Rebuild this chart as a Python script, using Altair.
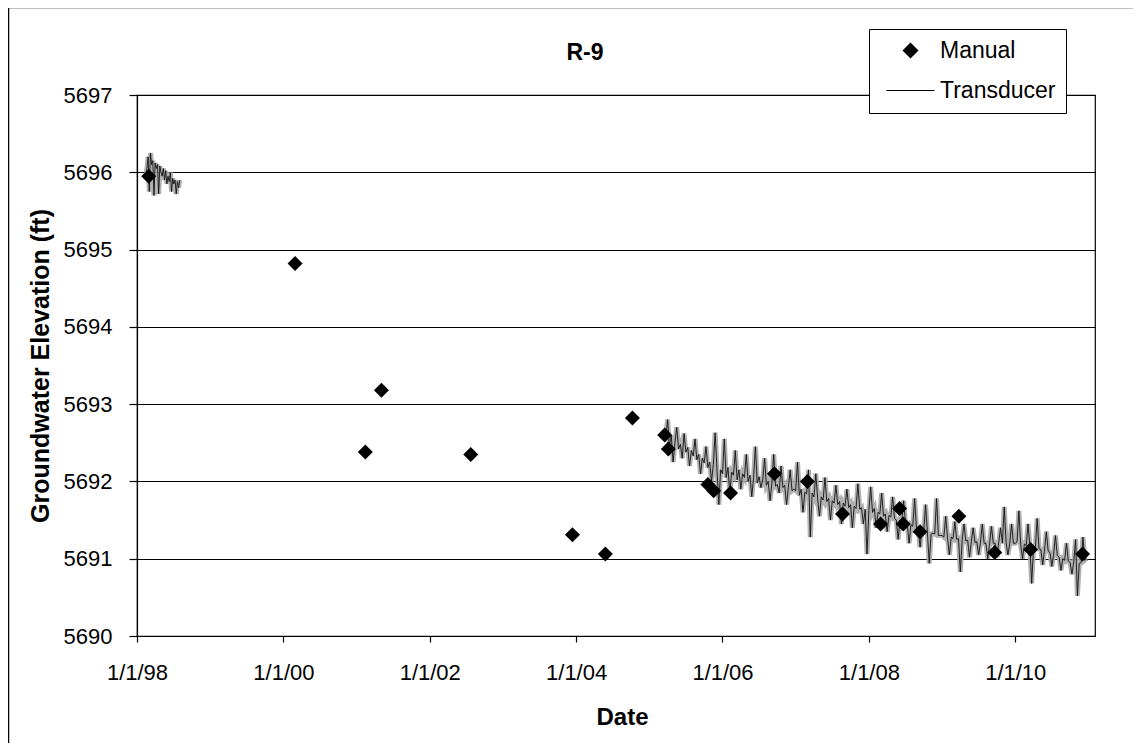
import altair as alt
import pandas as pd

# ---------------- data ----------------
manual_year = [1998.16, 2000.16, 2001.12, 2001.34, 2002.56, 2003.95, 2004.40, 2004.77,
               2005.21, 2005.26, 2005.80, 2005.88, 2006.11, 2006.71, 2007.16, 2007.64,
               2008.16, 2008.42, 2008.47, 2008.70, 2009.23, 2009.72, 2010.21, 2010.92]
manual_elev = [5695.95, 5694.82, 5692.38, 5693.18, 5692.35, 5691.31, 5691.06, 5692.82,
               5692.60, 5692.42, 5691.96, 5691.88, 5691.85, 5692.10, 5692.00, 5691.58,
               5691.45, 5691.65, 5691.45, 5691.35, 5691.55, 5691.08, 5691.12, 5691.06]

# transducer record, segment 1 (1998), regular sampling
tr98_start = 1998.12
tr98_step = 0.016
tr98_elev = [5695.95, 5696.05, 5696.20, 5695.75, 5696.25, 5696.10, 5696.15, 5695.70,
             5696.12, 5696.05, 5696.10, 5695.72, 5696.08, 5696.00, 5695.95, 5696.05,
             5695.90, 5696.02, 5695.85, 5695.95, 5695.88, 5696.00, 5695.75, 5695.92,
             5695.85, 5695.90, 5695.72, 5695.88, 5695.80, 5695.90]

# transducer record, segment 2 (2005-2010), regular sampling
tr05_start = 2005.225
tr05_step = 0.025
tr05_elev = [
    # 2005
    5692.55, 5692.80, 5692.45, 5692.60, 5692.25, 5692.50, 5692.70, 5692.42, 5692.48, 5692.30,
    5692.62, 5692.38, 5692.44, 5692.20, 5692.40, 5692.33, 5692.55, 5692.28, 5692.35, 5692.10,
    5692.30, 5692.24, 5692.45, 5692.18, 5692.25, 5692.00, 5692.22, 5692.63, 5692.15, 5691.70,
    5692.15,
    # 2006
    5692.10, 5692.55, 5692.05, 5692.18, 5691.85, 5692.12, 5692.08, 5692.40, 5692.02, 5692.15,
    5691.90, 5692.10, 5692.05, 5692.35, 5692.00, 5692.08, 5691.80, 5692.05, 5692.45, 5691.98,
    5692.06, 5691.92, 5692.02, 5692.30, 5691.95, 5692.00, 5691.75, 5691.98, 5692.35, 5691.94,
    5691.96, 5691.85, 5692.20, 5691.92, 5691.95, 5691.70, 5691.92, 5692.15, 5691.88, 5691.90,
    # 2007
    5691.88, 5692.25, 5691.82, 5691.90, 5691.60, 5691.86, 5691.84, 5692.15, 5691.28, 5691.85,
    5691.80, 5692.10, 5691.78, 5691.55, 5691.80, 5691.76, 5692.05, 5691.74, 5691.78, 5691.50,
    5691.75, 5691.72, 5691.95, 5691.70, 5691.74, 5691.45, 5691.72, 5691.68, 5691.90, 5691.66,
    5691.70, 5691.40, 5691.68, 5691.65, 5691.97, 5691.64, 5691.66, 5691.45, 5691.64, 5691.06,
    # 2008
    5691.62, 5691.93, 5691.60, 5691.65, 5691.40, 5691.60, 5691.58, 5691.85, 5691.55, 5691.58,
    5691.35, 5691.56, 5691.54, 5691.80, 5691.52, 5691.50, 5691.25, 5691.50, 5691.48, 5691.75,
    5691.46, 5691.45, 5691.20, 5691.44, 5691.42, 5691.78, 5691.40, 5691.38, 5691.15, 5691.38,
    5691.36, 5691.70, 5691.34, 5690.94, 5691.32, 5691.33, 5691.32, 5691.78, 5691.30, 5691.30,
    # 2009
    5691.30, 5691.28, 5691.55, 5691.27, 5691.05, 5691.28, 5691.26, 5691.48, 5691.25, 5691.26,
    5690.83, 5691.24, 5691.45, 5691.23, 5691.24, 5691.02, 5691.22, 5691.40, 5691.21, 5691.22,
    5691.05, 5691.21, 5691.45, 5691.20, 5691.20, 5691.00, 5691.20, 5691.42, 5691.20, 5691.20,
    5691.02, 5691.21, 5691.40, 5691.20, 5691.67, 5691.21, 5691.05, 5691.20, 5691.45, 5691.20,
    # 2010
    5691.20, 5691.22, 5691.62, 5691.18, 5691.00, 5691.19, 5691.17, 5691.45, 5691.16, 5690.68,
    5691.15, 5691.14, 5691.52, 5691.13, 5691.12, 5690.92, 5691.11, 5691.35, 5691.10, 5691.08,
    5690.90, 5691.06, 5691.30, 5691.04, 5691.02, 5690.85, 5691.00, 5690.98, 5691.20, 5690.97,
    5690.95, 5690.80, 5690.96, 5691.25, 5690.52, 5690.94, 5690.95, 5691.28, 5690.98, 5691.00,
]

chart_title = "R-9"
series_names = ["Manual", "Transducer"]
x_domain = [1998.0, 2011.09]
x_ticks = [1998, 2000, 2002, 2004, 2006, 2008, 2010]
y_domain = [5690, 5697]
y_ticks = [5690, 5691, 5692, 5693, 5694, 5695, 5696, 5697]

# ---------------- tables ----------------
manual_df = pd.DataFrame({"year": manual_year, "elev": manual_elev, "series": "Manual"})
rows = []
for i, v in enumerate(tr98_elev):
    rows.append({"year": tr98_start + i * tr98_step, "elev": v, "seg": "a"})
for i, v in enumerate(tr05_elev):
    rows.append({"year": tr05_start + i * tr05_step, "elev": v, "seg": "b"})
trans_df = pd.DataFrame(rows)

FONT = "Liberation Sans"

x_enc = alt.X("year:Q",
              scale=alt.Scale(domain=x_domain, nice=False, zero=False),
              axis=alt.Axis(values=x_ticks,
                            labelExpr="'1/1/' + substring(toString(datum.value), 2, 4)",
                            grid=False, title="Date", titleX=485, titleY=81,
                            titleAlign="center", titleBaseline="middle",
                            tickSize=6, labelPadding=20, labelFlush=False,
                            labelFont=FONT, labelFontSize=22, labelColor="black",
                            titleFont=FONT, titleFontSize=24, titleFontWeight="bold",
                            titleColor="black",
                            domainColor="black", domainWidth=1.2,
                            tickColor="black", tickWidth=1.2))
y_enc = alt.Y("elev:Q",
              scale=alt.Scale(domain=y_domain, nice=False, zero=False),
              axis=alt.Axis(values=y_ticks, format="d", grid=True,
                            gridColor="black", gridWidth=1.2, gridOpacity=1,
                            title="Groundwater Elevation (ft)",
                            titleX=-97, titleY=270.5, titleAngle=270,
                            titleAlign="center", titleBaseline="middle",
                            tickSize=8, labelPadding=17, labelFlush=False,
                            labelFont=FONT, labelFontSize=22, labelColor="black",
                            titleFont=FONT, titleFontSize=25, titleFontWeight="bold",
                            titleColor="black",
                            domainColor="black", domainWidth=1.2,
                            tickColor="black", tickWidth=1.2))

frame = alt.Chart(alt.Data(values=[{"k": 1}])).mark_rect(
    filled=False, stroke="black", strokeWidth=1.5
).encode(
    x=alt.value(-128.5), x2=alt.value(1020), y=alt.value(-87.5), y2=alt.value(680)
)

title_text = alt.Chart(alt.Data(values=[{"t": chart_title}])).mark_text(
    font=FONT, fontSize=23, fontWeight="bold", color="black",
    align="center", baseline="middle"
).encode(text="t:N", x=alt.value(448), y=alt.value(-42))

band = alt.Chart(trans_df).mark_line(color="#a8a8a8", strokeWidth=5, opacity=0.9).encode(
    x=x_enc, y=y_enc, detail="seg:N"
)

line = alt.Chart(trans_df).mark_line(color="#111111", strokeWidth=0.9).encode(
    x=alt.X("year:Q"), y=alt.Y("elev:Q"), detail="seg:N"
)

points = alt.Chart(manual_df).mark_point(filled=True, color="black", opacity=1, size=225).encode(
    x=alt.X("year:Q"), y=alt.Y("elev:Q"),
    shape=alt.Shape("series:N",
                    scale=alt.Scale(domain=series_names,
                                    range=["diamond", "M-3,-0.07H3V0.07H-3Z"]),
                    legend=alt.Legend(title=None, orient="none", legendX=732, legendY=-66,
                                      fillColor="white", strokeColor="black", padding=10,
                                      labelFontSize=23, labelFont=FONT, labelColor="black",
                                      symbolSize=256, symbolFillColor="black",
                                      symbolStrokeWidth=0, symbolOffset=20, labelOffset=18,
                                      rowPadding=16, symbolOpacity=1))
)

chart = alt.layer(frame, title_text, band, line, points).properties(
    width=958, height=541,
    background="white",
    autosize=alt.AutoSizeParams(type="none"),
    padding={"left": 129, "top": 87, "right": 38, "bottom": 107},
).configure_view(
    stroke="black", strokeWidth=1.2
)

chart.save("out.html", embed_options={"renderer": "svg", "actions": False})
